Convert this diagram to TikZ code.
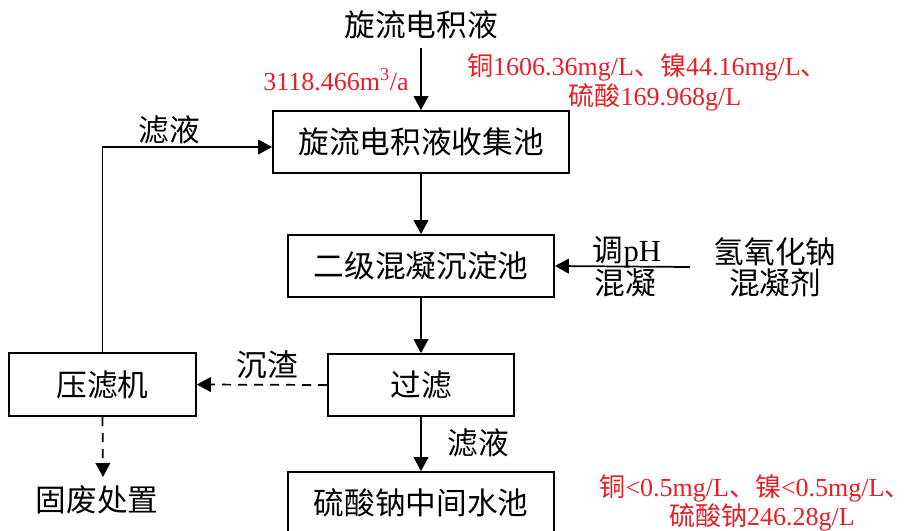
\documentclass[tikz,border=0pt]{standalone}
\usepackage{fontspec}
\setmainfont{Liberation Serif}
\newfontfamily\cjk{Noto Sans CJK SC}
\usetikzlibrary{arrows.meta,calc}
\definecolor{redtxt}{RGB}{232,30,38}
\tikzset{
  procbox/.style={draw, line width=1.3pt, rectangle, inner sep=0pt, font=\cjk\fontsize{23}{27}\selectfont},
  lbl/.style={inner sep=0pt, font=\cjk\fontsize{23}{27}\selectfont},
  redlbl/.style={inner sep=0pt, text=redtxt, font=\fontsize{19.5}{23}\selectfont, align=center},
  conn/.style={line width=1.3pt, -{Triangle[length=10.5pt,width=11pt]}},
  dconn/.style={conn, dash pattern=on 7pt off 5pt}
}
\begin{document}
\begin{tikzpicture}[x=0.75pt,y=-0.75pt]
\useasboundingbox (0,0) rectangle (909,531);
% boxes
\node[procbox, minimum width=296*0.75pt, minimum height=62*0.75pt] (b1) at (421,142) {旋流电积液收集池};
\node[procbox, minimum width=266*0.75pt, minimum height=62*0.75pt] (b2) at (421,266) {二级混凝沉淀池};
\node[procbox, minimum width=186*0.75pt, minimum height=62*0.75pt] (b3) at (421,385) {过滤};
\node[procbox, minimum width=187*0.75pt, minimum height=63*0.75pt] (pr) at (102.5,384.5) {压滤机};
\node[procbox, minimum width=266*0.75pt, minimum height=62*0.75pt] (b4) at (421,503) {硫酸钠中间水池};
% free text
\node[lbl] (src) at (421,25) {旋流电积液};
\coordinate (srcend) at (421,48);
\node[lbl] (naoh1) at (775,252) {氢氧化钠};
\node[lbl] (naoh2) at (775,283) {混凝剂};
\coordinate (naohend) at (690,267);
\node[lbl] (waste) at (97,500) {固废处置};
\coordinate (wasteend) at (103,477);
% labels
\node[lbl] (l1) at (169,130) {滤液};
\node[lbl] (l2) at (267,365) {沉渣};
\node[lbl] (l3) at (478,443) {滤液};
\node[lbl] (l4) at (627,252) {{\cjk 调}\fontspec{Liberation Serif}pH};
\node[lbl] (l5) at (625,283) {混凝};
\node[redlbl] (r1) at (336,80) {3118.466m\textsuperscript{3}/a};
\node[redlbl] (r2) at (647,67) {{\cjk 铜}1606.36mg/L{\cjk 、镍}44.16mg/L{\cjk 、}};
\node[redlbl] (r3) at (655,97) {{\cjk 硫酸}169.968g/L};
\node[redlbl] (r4) at (755,488) {{\cjk 铜}<0.5mg/L{\cjk 、镍}<0.5mg/L{\cjk 、}};
\node[redlbl] (r5) at (762,517) {{\cjk 硫酸钠}246.28g/L};
% connectors
\draw[conn] (srcend) -- (b1.north);
\draw[conn] (b1.south) -- (b2.north);
\draw[conn] (b2.south) -- (b3.north);
\draw[conn] (b3.south) -- (b4.north);
\draw[conn] (naohend) -- (b2.east);
\draw[dconn] (b3.west) -- (pr.east);
\draw[dconn] (pr.south) -- (wasteend);
\draw[conn] (pr.north) |- ($(b1.west)+(0,5)$);
\end{tikzpicture}
\end{document}
